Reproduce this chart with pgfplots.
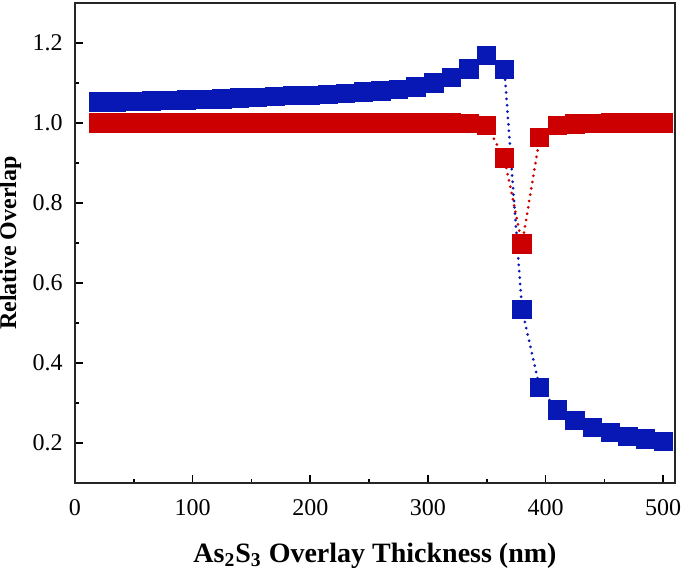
\documentclass[border=0pt]{standalone}
\usepackage{fontspec}
\setmainfont{Liberation Serif}
\usepackage{pgfplots}
\pgfplotsset{compat=1.18}
\definecolor{myblue}{RGB}{8,24,180}
\definecolor{myred}{RGB}{204,0,0}
\begin{document}
\begin{tikzpicture}
\useasboundingbox (-37.5pt,-45pt) rectangle (305pt,241.5pt);
\begin{axis}[
  at={(0,0)}, anchor=south west,
  scale only axis, width=300pt, height=240pt,
  xmin=0, xmax=510, ymin=0.1, ymax=1.3,
  xtick={0,100,200,300,400,500},
  minor xtick={50,150,250,350,450},
  ytick={0.2,0.4,0.6,0.8,1.0,1.2},
  minor ytick={0.3,0.5,0.7,0.9,1.1},
  tick pos=left, tick align=inside,
  major tick length=4pt, minor tick length=2pt,
  every tick/.style={line width=0.8pt, black},
  axis line style={line width=1pt, black!85},
  /pgf/number format/assume math mode=true,
  xticklabel style={font=\fontsize{12}{14}\selectfont, anchor=base, yshift=-16pt},
  yticklabel style={font=\fontsize{12}{14}\selectfont, anchor=east, inner sep=0pt, xshift=-6pt,
    /pgf/number format/.cd, fixed, fixed zerofill, precision=1},
  xlabel={As\textsubscript{2}S\textsubscript{3} Overlay Thickness (nm)},
  xlabel style={font=\fontsize{14}{16}\selectfont\bfseries, at={(axis description cs:0.5,-0.1646)}, anchor=base},
  ylabel={Relative Overlap},
  ylabel style={font=\fontsize{12}{14}\selectfont\bfseries, at={(axis description cs:-0.0983,0.5)}, anchor=base},
]
\addplot[myblue, line width=1.5pt, dash pattern=on 0pt off 3.2pt, line cap=round,
  mark=square*, mark size=4.1pt, mark options={solid, fill=myblue, draw=none}]
  coordinates {
  (20,1.052) (35,1.052) (50,1.053) (65,1.055) (80,1.056) (95,1.057) (110,1.058)
  (125,1.060) (140,1.062) (155,1.064) (170,1.066) (185,1.068) (200,1.069)
  (215,1.071) (230,1.074) (245,1.077) (260,1.080) (275,1.084) (290,1.090)
  (305,1.100) (320,1.114) (335,1.135) (350,1.168) (365,1.133) (380,0.533)
  (395,0.338) (410,0.283) (425,0.256) (440,0.239) (455,0.226) (470,0.216)
  (485,0.210) (500,0.204)
  };
\addplot[myred, line width=1.5pt, dash pattern=on 0pt off 3.2pt, line cap=round,
  mark=square*, mark size=4.1pt, mark options={solid, fill=myred, draw=none}]
  coordinates {
  (20,1.0) (35,1.0) (50,1.0) (65,1.0) (80,1.0) (95,1.0) (110,1.0)
  (125,1.0) (140,1.0) (155,1.0) (170,1.0) (185,1.0) (200,1.0)
  (215,1.0) (230,1.0) (245,1.0) (260,1.0) (275,1.0) (290,1.0)
  (305,1.0) (320,1.0) (335,0.998) (350,0.993) (365,0.912) (380,0.697)
  (395,0.963) (410,0.993) (425,0.997) (440,0.999) (455,1.0) (470,1.0)
  (485,1.0) (500,1.0)
  };
\end{axis}
\end{tikzpicture}
\end{document}
